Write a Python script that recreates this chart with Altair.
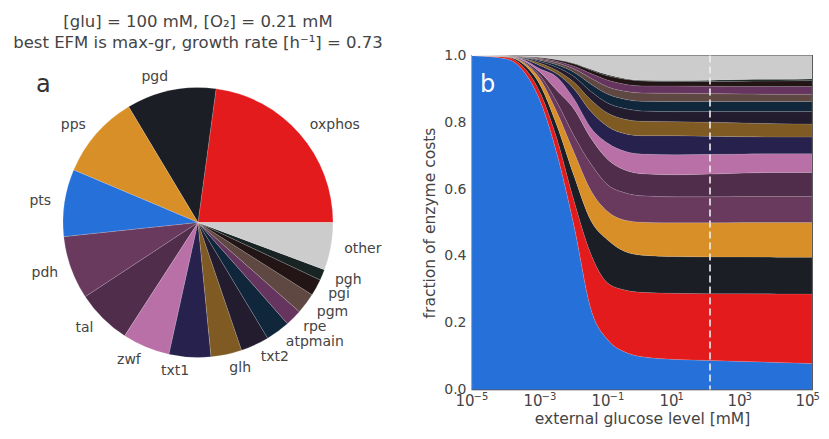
import math
import altair as alt
import pandas as pd

FONT = "DejaVu Sans"
TXT = "#444444"

# ---------------- panel a : pie -----------------
pie_names = ["oxphos", "pgd", "pps", "pts", "pdh", "tal", "zwf", "txt1", "glh",
             "txt2", "atpmain", "rpe", "pgm", "pgi", "pgh", "other"]
pie_values = [22.9, 10.75, 10.06, 8.06, 7.6, 6.6, 5.7, 5.0, 3.7,
              3.4, 2.9, 2.0, 2.5, 2.0, 1.3, 5.7]
enzyme_colors = {
    "pts": "#2670d9", "oxphos": "#e41b1d", "pgd": "#1c1e25", "pps": "#d98f27",
    "pdh": "#6a3a5e", "tal": "#4f2d4b", "zwf": "#b970a7", "txt1": "#27214e",
    "glh": "#7f5b23", "txt2": "#231c2e", "atpmain": "#10263b", "rpe": "#66355f",
    "pgm": "#5f4842", "pgi": "#231515", "pgh": "#182424", "other": "#cccccc",
}

title_lines = ["[glu] = 100 mM, [O₂] = 0.21 mM",
               "best EFM is max-gr, growth rate [h⁻¹] = 0.73"]

# ---------------- panel b : stacked areas -----------------
log_glucose = [-5, -4, -3.5, -3, -2.5, -2, -1.5, -1, -0.5, 0, 1, 2, 3, 4, 5]
area_names = ["pts", "oxphos", "pgd", "pps", "pdh", "tal", "zwf", "txt1", "glh",
              "txt2", "atpmain", "pgm", "rpe", "pgi", "pgh", "other"]
# upper edge of each stacked band (cumulative fraction)
top_pts     = [1.0, 0.990, 0.955, 0.865, 0.705, 0.490, 0.240, 0.148, 0.112, 0.098, 0.090, 0.087, 0.084, 0.081, 0.078]
top_oxphos  = [1.0, 0.995, 0.967, 0.890, 0.750, 0.565, 0.405, 0.318, 0.298, 0.291, 0.288, 0.287, 0.287, 0.286, 0.286]
top_pgd     = [1.0, 0.996, 0.975, 0.912, 0.790, 0.640, 0.505, 0.447, 0.413, 0.402, 0.398, 0.397, 0.397, 0.396, 0.396]
top_pps     = [1.0, 0.997, 0.980, 0.930, 0.830, 0.710, 0.595, 0.532, 0.507, 0.501, 0.499, 0.499, 0.500, 0.500, 0.500]
top_pdh     = [1.0, 0.997, 0.982, 0.940, 0.860, 0.760, 0.675, 0.612, 0.589, 0.580, 0.577, 0.577, 0.578, 0.578, 0.578]
top_tal     = [1.0, 0.998, 0.985, 0.950, 0.895, 0.840, 0.752, 0.688, 0.657, 0.646, 0.643, 0.645, 0.648, 0.650, 0.650]
top_zwf     = [1.0, 0.998, 0.988, 0.960, 0.935, 0.870, 0.783, 0.737, 0.713, 0.705, 0.703, 0.704, 0.705, 0.706, 0.706]
top_txt1    = [1.0, 0.998, 0.990, 0.970, 0.945, 0.900, 0.832, 0.787, 0.766, 0.760, 0.760, 0.758, 0.757, 0.756, 0.756]
top_glh     = [1.0, 0.999, 0.992, 0.977, 0.955, 0.920, 0.867, 0.827, 0.809, 0.803, 0.802, 0.800, 0.798, 0.796, 0.795]
top_txt2    = [1.0, 0.999, 0.994, 0.982, 0.965, 0.937, 0.892, 0.857, 0.841, 0.834, 0.832, 0.832, 0.832, 0.832, 0.832]
top_atpmain = [1.0, 0.999, 0.995, 0.986, 0.972, 0.950, 0.914, 0.884, 0.869, 0.863, 0.862, 0.862, 0.862, 0.862, 0.862]
top_pgm     = [1.0, 0.999, 0.996, 0.989, 0.978, 0.960, 0.932, 0.906, 0.893, 0.888, 0.887, 0.886, 0.885, 0.884, 0.884]
top_rpe     = [1.0, 1.000, 0.997, 0.992, 0.983, 0.968, 0.946, 0.926, 0.914, 0.909, 0.909, 0.908, 0.907, 0.907, 0.907]
top_pgi     = [1.0, 1.000, 0.998, 0.994, 0.987, 0.975, 0.956, 0.939, 0.929, 0.924, 0.922, 0.922, 0.923, 0.924, 0.925]
top_pgh     = [1.0, 1.000, 0.998, 0.995, 0.988, 0.977, 0.959, 0.942, 0.931, 0.926, 0.925, 0.926, 0.928, 0.929, 0.930]
top_other   = [1.0] * len(log_glucose)

x_tick_exps = [-5, -3, -1, 1, 3, 5]
x_tick_base = "10"
x_tick_exp_labels = ["−5", "−3", "−1", "1", "3", "5"]
y_ticks = [0.0, 0.2, 0.4, 0.6, 0.8, 1.0]
current_glucose = 100

# ================= build pie =================
total = sum(pie_values)
rows = []
cum = 0.0
for i, (n, v) in enumerate(zip(pie_names, pie_values)):
    mid_asc = cum + v / 2.0
    cum += v
    ang = mid_asc / total * 2 * math.pi
    rows.append({"name": n, "value": v, "ord": i,
                 "mid": total - mid_asc,
                 "side": "right" if math.cos(ang) > 0 else "left"})
pie_df = pd.DataFrame(rows)

theta_scale = alt.Scale(domain=[0, total], range=[math.pi / 2, 5 * math.pi / 2])
pie_color = alt.Color("name:N", scale=alt.Scale(domain=list(enzyme_colors.keys()),
                                                range=list(enzyme_colors.values())),
                      legend=None)

PW, PH = 380, 334
R = 135

base = alt.Chart(pie_df)
arcs = base.mark_arc(outerRadius=R, stroke="#ffffff", strokeWidth=0.3, strokeOpacity=0.5).encode(
    theta=alt.Theta("value:Q", stack=True, scale=theta_scale),
    color=pie_color,
    order=alt.Order("ord:Q", sort="descending"),
)
lab_r = base.transform_filter(alt.datum.side == "right").mark_text(
    radius=R * 1.1, align="left", baseline="middle", font=FONT, fontSize=14, color=TXT
).encode(theta=alt.Theta("mid:Q", stack=None, scale=theta_scale), text="name:N")
lab_l = base.transform_filter(alt.datum.side == "left").mark_text(
    radius=R * 1.1, align="right", baseline="middle", font=FONT, fontSize=14, color=TXT
).encode(theta=alt.Theta("mid:Q", stack=None, scale=theta_scale), text="name:N")

t1 = alt.Chart(pd.DataFrame({"t": [title_lines[0]]})).mark_text(
    align="center", baseline="alphabetic", font=FONT, fontSize=16.5, color=TXT
).encode(x=alt.value(PW / 2), y=alt.value(-29), text="t:N")
t2 = alt.Chart(pd.DataFrame({"t": [title_lines[1]]})).mark_text(
    align="center", baseline="alphabetic", font=FONT, fontSize=16.5, color=TXT
).encode(x=alt.value(PW / 2), y=alt.value(-8), text="t:N")
lab_a = alt.Chart(pd.DataFrame({"t": ["a"]})).mark_text(
    align="left", baseline="alphabetic", font=FONT, fontSize=24, color="#333333"
).encode(x=alt.value(28), y=alt.value(36), text="t:N")

pie = alt.layer(arcs, lab_r, lab_l, t1, t2, lab_a).properties(
    width=PW, height=PH, view=alt.ViewBackground(strokeWidth=0)
)

# ================= build area =================
tops = [top_pts, top_oxphos, top_pgd, top_pps, top_pdh, top_tal, top_zwf, top_txt1,
        top_glh, top_txt2, top_atpmain, top_pgm, top_rpe, top_pgi, top_pgh, top_other]
arows = []
for k, (n, tp) in enumerate(zip(area_names, tops)):
    lo = [0.0] * len(log_glucose) if k == 0 else tops[k - 1]
    for e, a, b in zip(log_glucose, lo, tp):
        arows.append({"name": n, "k": k, "glc": 10.0 ** e, "lo": a, "hi": b})
area_df = pd.DataFrame(arows)

tick_df = pd.DataFrame({"glc": [10.0 ** e for e in x_tick_exps], "ex": x_tick_exp_labels})

AW, AH = 340, 334
xs = alt.Scale(type="log", domain=[1e-5, 1e5], nice=False)
ys = alt.Scale(domain=[0, 1], nice=False)

areas = alt.Chart(area_df).mark_area(
    interpolate="monotone", stroke="#ffffff", strokeWidth=0.3, strokeOpacity=0.35
).encode(
    x=alt.X("glc:Q", scale=xs, title="external glucose level [mM]",
            axis=alt.Axis(values=[10.0 ** e for e in x_tick_exps],
                          labelExpr=f"'{x_tick_base}'", labelAlign="right",
                          labelOffset=2, labelFontSize=15, labelPadding=4,
                          labelFlush=False, labelOverlap=False, titlePadding=2.5)),
    y=alt.Y("hi:Q", scale=ys, title="fraction of enzyme costs",
            axis=alt.Axis(values=y_ticks, format=".1f")),
    y2="lo:Q",
    color=alt.Color("name:N", scale=alt.Scale(domain=list(enzyme_colors.keys()),
                                              range=list(enzyme_colors.values())),
                    legend=None),
    detail="k:N",
)
exps = alt.Chart(tick_df).mark_text(
    align="left", baseline="alphabetic", font=FONT, fontSize=10, color=TXT, dx=1.5
).encode(x=alt.X("glc:Q", scale=xs), y=alt.value(AH + 10), text="ex:N")
rule = alt.Chart(pd.DataFrame({"glc": [current_glucose]})).mark_rule(
    color="#f0f0f0", strokeDash=[7, 4], strokeWidth=1.6
).encode(x=alt.X("glc:Q", scale=xs))
lab_b = alt.Chart(pd.DataFrame({"t": ["b"]})).mark_text(
    align="left", baseline="alphabetic", font=FONT, fontSize=24, color="#ffffff"
).encode(x=alt.value(8), y=alt.value(36), text="t:N")

area = alt.layer(areas, rule, lab_b, exps).properties(width=AW, height=AH)

chart = alt.hconcat(pie, area, spacing=84, bounds="flush").properties(
    padding={"left": 0, "top": 5.5, "right": 0, "bottom": 0}
).configure_view(stroke="#333333", strokeWidth=1.3).configure_axis(
    grid=False, ticks=False, domain=False,
    labelFont=FONT, labelFontSize=14, labelColor=TXT, labelPadding=6,
    titleFont=FONT, titleFontSize=15.5, titleFontWeight="normal", titleColor=TXT,
    titlePadding=6,
)

chart.save("out.html", embed_options={"renderer": "svg", "actions": False})
